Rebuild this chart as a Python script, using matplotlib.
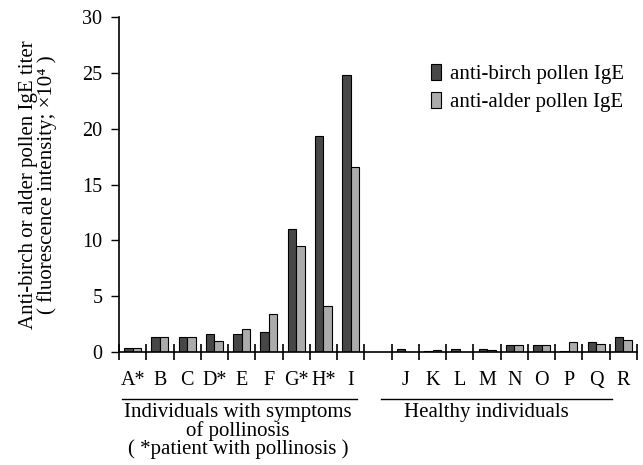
import matplotlib
matplotlib.use("Agg")
import matplotlib.pyplot as plt
from matplotlib.patches import Patch
import numpy as np

plt.rcParams['font.family'] = ['Liberation Serif', 'DejaVu Serif']

group1_labels = ["A*", "B", "C", "D*", "E", "F", "G*", "H*", "I"]
group2_labels = ["J", "K", "L", "M", "N", "O", "P", "Q", "R"]
birch1 = [0.4, 1.3, 1.3, 1.6, 1.6, 1.8, 11.0, 19.3, 24.8]
alder1 = [0.4, 1.3, 1.3, 1.0, 2.1, 3.4, 9.5, 4.1, 16.6]
birch2 = [0.3, 0.1, 0.3, 0.3, 0.6, 0.6, 0.1, 0.9, 1.3]
alder2 = [0.0, 0.2, 0.0, 0.2, 0.6, 0.6, 0.9, 0.7, 1.1]
yticks = [0, 5, 10, 15, 20, 25, 30]

labels = group1_labels + group2_labels
birch = birch1 + birch2
alder = alder1 + alder2
pos = list(range(len(group1_labels))) + [len(group1_labels) + 1 + i for i in range(len(group2_labels))]
pos = np.array(pos, dtype=float)

W, H = 643, 465
fig = plt.figure(figsize=(W / 100, H / 100), dpi=100)
ax = fig.add_axes([119 / W, 1 - 352 / H, (637 - 119) / W, 335 / H])

bw = 0.31
dark = "#474747"
light = "#ababab"
ax.bar(pos - bw / 2, birch, width=bw, color=dark, edgecolor="black", linewidth=0.8)
ax.bar(pos + bw / 2, alder, width=bw, color=light, edgecolor="black", linewidth=0.8)

ax.set_xlim(-0.5, 18.5)
ax.set_ylim(0, 30)
ax.set_yticks(yticks)
ax.tick_params(axis='y', direction='out', length=6, width=1, labelsize=14.5, pad=6)
ax.spines['top'].set_visible(False)
ax.spines['right'].set_visible(False)
ax.spines['left'].set_linewidth(1.2)
ax.spines['bottom'].set_linewidth(1.2)

ax.set_xticks(pos)
ax.set_xticklabels(labels, fontsize=14.5)
ax.tick_params(axis='x', which='major', length=0, pad=14)
bounds = list(np.arange(-0.5, 9.0, 1.0)) + list(np.arange(9.5, 19.0, 1.0))
ax.set_xticks(bounds, minor=True)
ax.tick_params(axis='x', which='minor', direction='inout', length=12, width=1.2)

ax.set_ylabel("Anti-birch or alder pollen IgE titer\n( fluorescence intensity; \u00d710\u2074 )",
              fontsize=15, linespacing=0.9)
ax.yaxis.set_label_coords(-0.12, 0.5)

def fx(x):
    return x / W

def fy(y):
    return 1 - y / H

fig.add_artist(plt.Line2D([fx(122), fx(357)], [fy(399), fy(399)], color="black", linewidth=1))
fig.add_artist(plt.Line2D([fx(381), fx(612)], [fy(399), fy(399)], color="black", linewidth=1))
fig.text(fx(238), fy(403), "Individuals with symptoms\nof pollinosis\n( *patient with pollinosis )",
         ha="center", va="top", fontsize=15, linespacing=0.92)
fig.text(fx(486), fy(403), "Healthy individuals", ha="center", va="top", fontsize=15)

handles = [Patch(facecolor=dark, edgecolor="black", linewidth=0.8, label="anti-birch pollen IgE"),
           Patch(facecolor=light, edgecolor="black", linewidth=0.8, label="anti-alder pollen IgE")]
fig.legend(handles=handles, loc="upper left", bbox_to_anchor=(fx(412), fy(45)), frameon=False,
           fontsize=15, handlelength=0.5, handleheight=0.8, handletextpad=0.4, labelspacing=0.4)

fig.savefig("out.png", dpi=100)
